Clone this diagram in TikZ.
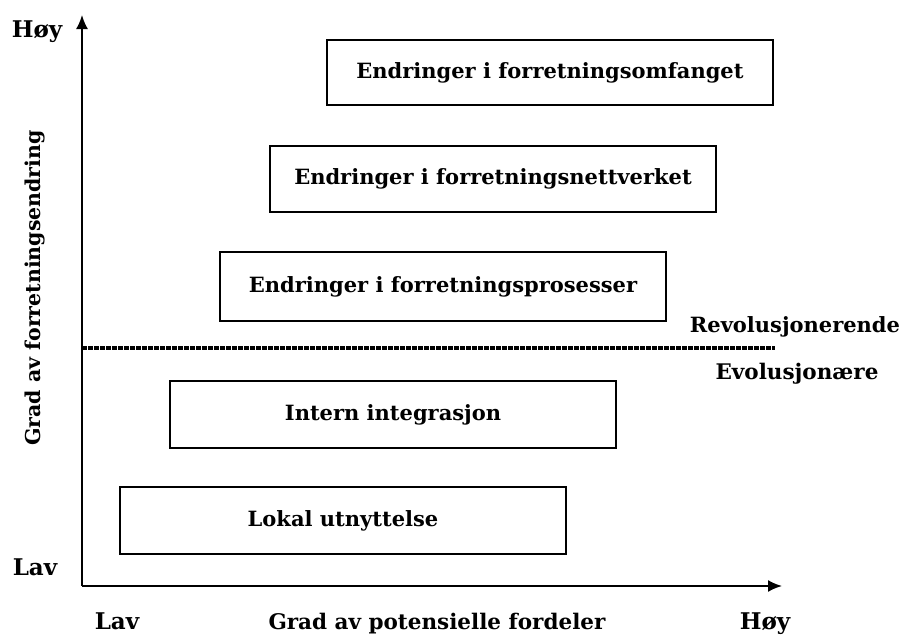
\documentclass[tikz,border=0pt]{standalone}
\usepackage{fontspec}
\setmainfont{DejaVu Serif}
\usetikzlibrary{arrows.meta}
\begin{document}
\begin{tikzpicture}[x=1pt,y=-1pt,
  level/.style={draw,line width=1.8pt,minimum width=446pt,inner sep=0pt,
    font=\fontsize{21}{24}\selectfont\bfseries},
  sidelabel/.style={anchor=base,inner sep=0pt,font=\fontsize{21}{24}\selectfont\bfseries},
  endlabel/.style={anchor=base,inner sep=0pt,font=\fontsize{23}{26}\selectfont\bfseries},
  axisline/.style={line width=1.8pt,-{Latex[length=14pt,width=12pt]}},
  divider/.style={line width=3.2pt,dash pattern=on 4.5pt off 1.5pt}]
  \useasboundingbox (0,0) rectangle (903,635);

  % axes
  \coordinate (origin) at (82,586);
  \coordinate (ytip) at (82,15);
  \coordinate (xtip) at (782,586);
  \draw[axisline] (origin) -- (ytip);
  \draw[axisline] (origin) -- (xtip);

  % levels of business change
  \node[level,minimum height=65pt] (omfang) at (550,72.5) {Endringer i forretningsomfanget};
  \node[level,minimum height=66pt] (nett) at (493,179) {Endringer i forretningsnettverket};
  \node[level,minimum height=69pt] (prosess) at (443,286.5) {Endringer i forretningsprosesser};
  \node[level,minimum height=67pt] (intern) at (393,414.5) {Intern integrasjon};
  \node[level,minimum height=67pt] (lokal) at (343,520.5) {Lokal utnyttelse};

  % revolutionary / evolutionary boundary
  \coordinate (divstart) at (82,348);
  \coordinate (divend) at (775,348);
  \draw[divider] (divstart) -- (divend);
  \node[sidelabel] (rev) at (795,332) {Revolusjonerende};
  \node[sidelabel,font=\fontsize{21.5}{24}\selectfont\bfseries] (evo) at (797,379) {Evolusjonære};

  % axis labels
  \node[endlabel] (yhigh) at (37,37) {Høy};
  \node[endlabel] (ylow) at (35,575) {Lav};
  \node[font=\fontsize{20.5}{24}\selectfont\bfseries,rotate=90] (ytitle) at (35,288) {Grad av forretningsendring};
  \node[endlabel] (xlow) at (117,629) {Lav};
  \node[sidelabel,font=\fontsize{21.5}{24}\selectfont\bfseries] (xtitle) at (437,629) {Grad av potensielle fordeler};
  \node[endlabel] (xhigh) at (765,629) {Høy};
\end{tikzpicture}
\end{document}
